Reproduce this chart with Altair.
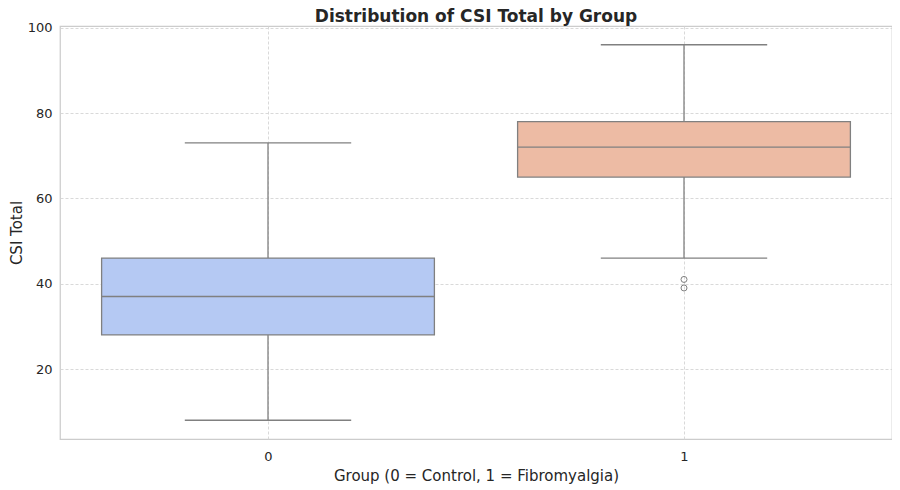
import altair as alt
import pandas as pd

groups = [0, 1]
whisker_low = [8, 46]
q1 = [28, 65]
median = [37, 72]
q3 = [46, 78]
whisker_high = [73, 96]
outlier_group = [1, 1]
outlier_value = [41, 39]
box_colors = ["#b5c9f3", "#edbba4"]

stats = pd.DataFrame({
    "group": groups,
    "low": whisker_low,
    "q1": q1,
    "median": median,
    "q3": q3,
    "high": whisker_high,
})
outliers = pd.DataFrame({"group": outlier_group, "value": outlier_value})

FONT = "DejaVu Sans"
EDGE = "#808080"

xscale = alt.Scale(domain=[-0.5, 1.5], nice=False, zero=False)
yscale = alt.Scale(domain=[3.6, 100.4], nice=False, zero=False)

xaxis = alt.Axis(values=[0, 1], format="d", title="Group (0 = Control, 1 = Fibromyalgia)")
yaxis = alt.Axis(values=[20, 40, 60, 80, 100], title="CSI Total")

base = alt.Chart(stats).transform_calculate(
    box_lo="datum.group - 0.4",
    box_hi="datum.group + 0.4",
    cap_lo="datum.group - 0.2",
    cap_hi="datum.group + 0.2",
    gname="'' + datum.group",
)

whisker = base.mark_rule(color=EDGE, strokeWidth=1.3).encode(
    x=alt.X("group:Q", scale=xscale, axis=xaxis),
    y=alt.Y("low:Q", scale=yscale, axis=yaxis),
    y2="high:Q",
)

cap_low = base.mark_rule(color=EDGE, strokeWidth=1.3).encode(
    x="cap_lo:Q", x2="cap_hi:Q", y="low:Q"
)
cap_high = base.mark_rule(color=EDGE, strokeWidth=1.3).encode(
    x="cap_lo:Q", x2="cap_hi:Q", y="high:Q"
)

box = base.mark_rect(stroke=EDGE, strokeWidth=1.3, opacity=1).encode(
    x="box_lo:Q",
    x2="box_hi:Q",
    y="q1:Q",
    y2="q3:Q",
    fill=alt.Fill("gname:N", scale=alt.Scale(domain=["0", "1"], range=box_colors), legend=None),
)

med = base.mark_rule(color=EDGE, strokeWidth=1.3).encode(
    x="box_lo:Q", x2="box_hi:Q", y="median:Q"
)

outl = alt.Chart(outliers).mark_point(
    shape="circle", filled=False, color=EDGE, size=36, strokeWidth=1, opacity=1
).encode(x="group:Q", y="value:Q")

chart = alt.layer(whisker, cap_low, cap_high, box, med, outl).properties(
    width=832,
    height=413,
    title=alt.TitleParams(
        "Distribution of CSI Total by Group",
        fontSize=17,
        fontWeight="bold",
        font=FONT,
        color="#262626",
        anchor="middle",
        offset=-4,
    ),
    autosize=alt.AutoSizeParams(type="none"),
    padding={"left": 52, "top": 18, "right": 0, "bottom": 45},
).configure_view(
    stroke="#cccccc", strokeWidth=1.25
).configure_axis(
    domain=False,
    ticks=False,
    grid=True,
    gridColor="#d5d5d5",
    gridDash=[3, 2],
    gridWidth=0.9,
    labelFont=FONT,
    labelFontSize=13,
    labelColor="#262626",
    titleFont=FONT,
    titleFontSize=15,
    titleFontWeight="normal",
    titleColor="#262626",
).configure_axisY(
    labelPadding=8, titlePadding=3
).configure_axisX(
    labelPadding=11, titlePadding=5
)

chart.save("out.html", embed_options={"renderer": "svg", "actions": False})
